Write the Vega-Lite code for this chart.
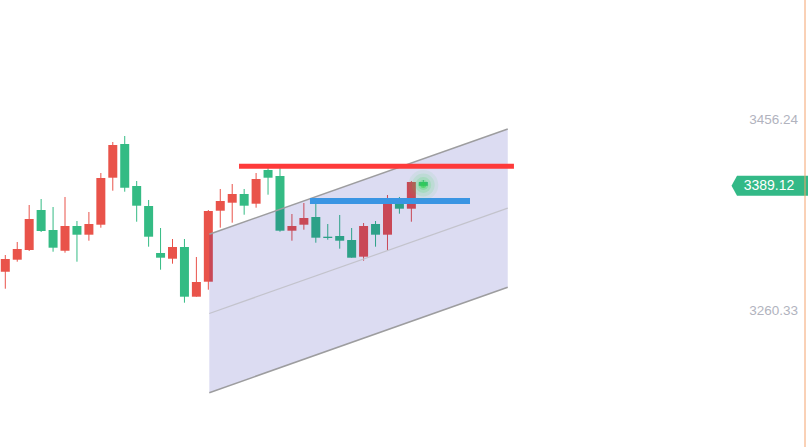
{
  "$schema": "https://vega.github.io/schema/vega-lite/v6.json",
  "width": 808,
  "height": 447,
  "padding": 0,
  "autosize": {"type": "none"},
  "background": "#ffffff",
  "config": {"view": {"stroke": null}, "scale": {"continuousPadding": 0}},
  "datasets": {
    "candles": [
      {"i": 1, "o": 3300.91, "h": 3318.06, "l": 3283.44, "c": 3313.95},
      {"i": 2, "o": 3313.23, "h": 3331.42, "l": 3311.18, "c": 3324.23},
      {"i": 3, "o": 3323.20, "h": 3369.43, "l": 3322.17, "c": 3355.05},
      {"i": 4, "o": 3364.29, "h": 3375.59, "l": 3341.69, "c": 3342.72},
      {"i": 5, "o": 3343.75, "h": 3367.37, "l": 3321.45, "c": 3325.56},
      {"i": 6, "o": 3322.48, "h": 3377.65, "l": 3320.43, "c": 3347.86},
      {"i": 7, "o": 3347.86, "h": 3352.99, "l": 3311.18, "c": 3338.92},
      {"i": 8, "o": 3338.92, "h": 3362.24, "l": 3332.75, "c": 3349.91},
      {"i": 9, "o": 3349.19, "h": 3402.30, "l": 3346.11, "c": 3397.17},
      {"i": 10, "o": 3397.47, "h": 3434.15, "l": 3384.12, "c": 3431.07},
      {"i": 11, "o": 3432.10, "h": 3440.31, "l": 3383.09, "c": 3387.20},
      {"i": 12, "o": 3388.95, "h": 3394.08, "l": 3352.27, "c": 3368.71},
      {"i": 13, "o": 3368.40, "h": 3374.57, "l": 3326.59, "c": 3336.86},
      {"i": 14, "o": 3320.12, "h": 3345.80, "l": 3302.96, "c": 3315.29},
      {"i": 15, "o": 3314.26, "h": 3334.50, "l": 3309.13, "c": 3326.28},
      {"i": 16, "o": 3326.28, "h": 3334.50, "l": 3269.06, "c": 3275.22},
      {"i": 17, "o": 3275.22, "h": 3316.01, "l": 3275.22, "c": 3290.33},
      {"i": 18, "o": 3290.63, "h": 3364.29, "l": 3282.42, "c": 3363.26},
      {"i": 19, "o": 3363.57, "h": 3385.87, "l": 3346.11, "c": 3373.54},
      {"i": 20, "o": 3371.79, "h": 3391.00, "l": 3351.25, "c": 3380.73},
      {"i": 21, "o": 3380.73, "h": 3385.87, "l": 3359.46, "c": 3368.71},
      {"i": 22, "o": 3370.76, "h": 3402.30, "l": 3366.66, "c": 3396.14},
      {"i": 23, "o": 3405.39, "h": 3409.49, "l": 3380.01, "c": 3397.47},
      {"i": 24, "o": 3399.22, "h": 3409.49, "l": 3342.00, "c": 3343.03},
      {"i": 25, "o": 3343.03, "h": 3360.18, "l": 3332.75, "c": 3347.86},
      {"i": 26, "o": 3349.19, "h": 3371.48, "l": 3344.05, "c": 3356.07},
      {"i": 27, "o": 3357.10, "h": 3374.57, "l": 3330.70, "c": 3335.84},
      {"i": 28, "o": 3336.86, "h": 3349.91, "l": 3333.78, "c": 3335.53},
      {"i": 29, "o": 3337.58, "h": 3359.16, "l": 3324.54, "c": 3332.75},
      {"i": 30, "o": 3333.47, "h": 3345.80, "l": 3315.29, "c": 3315.29},
      {"i": 31, "o": 3316.32, "h": 3350.94, "l": 3312.21, "c": 3347.86},
      {"i": 32, "o": 3349.91, "h": 3352.99, "l": 3326.59, "c": 3338.92},
      {"i": 33, "o": 3338.92, "h": 3379.70, "l": 3322.48, "c": 3372.51},
      {"i": 34, "o": 3372.51, "h": 3377.65, "l": 3360.49, "c": 3365.63},
      {"i": 35, "o": 3365.63, "h": 3394.08, "l": 3352.27, "c": 3393.06},
      {"i": 36, "o": 3393.06, "h": 3395.11, "l": 3388.60, "c": 3389.12}
    ],
    "channel": [
      {"i": 18.08, "hi": 3339.33, "mid": 3257.97, "lo": 3176.60},
      {"i": 43.07, "hi": 3447.51, "mid": 3366.20, "lo": 3284.88}
    ],
    "levels": [
      {"name": "resistance", "i1": 20.57, "i2": 43.59, "p": 3409.19},
      {"name": "support", "i1": 26.51, "i2": 39.91, "p": 3373.64}
    ],
    "ticks": [{"v": 3456.24}, {"v": 3260.33}],
    "last": [{"i": 36, "p": 3389.12, "glow": 3389.97}]
  },
  "layer": [
    {
      "data": {"name": "candles"},
      "mark": {"type": "rule", "strokeWidth": 1},
      "encoding": {
        "x": {"field": "i", "type": "quantitative", "scale": {"domain": [0.5562, 68.211], "nice": false, "zero": false, "padding": 0}, "axis": null},
        "y": {"field": "l", "type": "quantitative", "scale": {"domain": [3120.82, 3580.03], "nice": false, "zero": false, "padding": 0}, "axis": null},
        "y2": {"field": "h"},
        "color": {"condition": {"test": "datum.c > datum.o", "value": "#e9534a"}, "value": "#34bb84"}
      }
    },
    {
      "data": {"name": "candles"},
      "mark": {"type": "bar", "width": 9},
      "encoding": {
        "x": {"field": "i", "type": "quantitative", "scale": {"domain": [0.5562, 68.211], "nice": false, "zero": false, "padding": 0}, "axis": null},
        "y": {"field": "o", "type": "quantitative", "scale": {"domain": [3120.82, 3580.03], "nice": false, "zero": false, "padding": 0}, "axis": null},
        "y2": {"field": "c"},
        "color": {"condition": {"test": "datum.c > datum.o", "value": "#e9534a"}, "value": "#34bb84"}
      }
    },
    {
      "data": {"name": "channel"},
      "mark": {"type": "area", "color": "#0a0aa0", "opacity": 0.14},
      "encoding": {
        "x": {"field": "i", "type": "quantitative", "scale": {"domain": [0.5562, 68.211], "nice": false, "zero": false, "padding": 0}, "axis": null},
        "y": {"field": "hi", "type": "quantitative", "scale": {"domain": [3120.82, 3580.03], "nice": false, "zero": false, "padding": 0}, "axis": null},
        "y2": {"field": "lo"}
      }
    },
    {
      "data": {"name": "channel"},
      "mark": {"type": "line", "color": "#c3c3cc", "strokeWidth": 1.2},
      "encoding": {
        "x": {"field": "i", "type": "quantitative", "scale": {"domain": [0.5562, 68.211], "nice": false, "zero": false, "padding": 0}, "axis": null},
        "y": {"field": "mid", "type": "quantitative", "scale": {"domain": [3120.82, 3580.03], "nice": false, "zero": false, "padding": 0}, "axis": null}
      }
    },
    {
      "data": {"name": "channel"},
      "mark": {"type": "line", "color": "#9d9d9f", "strokeWidth": 1.5},
      "encoding": {
        "x": {"field": "i", "type": "quantitative", "scale": {"domain": [0.5562, 68.211], "nice": false, "zero": false, "padding": 0}, "axis": null},
        "y": {"field": "hi", "type": "quantitative", "scale": {"domain": [3120.82, 3580.03], "nice": false, "zero": false, "padding": 0}, "axis": null}
      }
    },
    {
      "data": {"name": "channel"},
      "mark": {"type": "line", "color": "#9d9d9f", "strokeWidth": 1.5},
      "encoding": {
        "x": {"field": "i", "type": "quantitative", "scale": {"domain": [0.5562, 68.211], "nice": false, "zero": false, "padding": 0}, "axis": null},
        "y": {"field": "lo", "type": "quantitative", "scale": {"domain": [3120.82, 3580.03], "nice": false, "zero": false, "padding": 0}, "axis": null}
      }
    },
    {
      "data": {"name": "levels"},
      "transform": [{"filter": "datum.name === 'resistance'"}],
      "mark": {"type": "rule", "color": "#fe3a3a", "strokeWidth": 5},
      "encoding": {
        "x": {"field": "i1", "type": "quantitative", "scale": {"domain": [0.5562, 68.211], "nice": false, "zero": false, "padding": 0}, "axis": null},
        "x2": {"field": "i2"},
        "y": {"field": "p", "type": "quantitative", "scale": {"domain": [3120.82, 3580.03], "nice": false, "zero": false, "padding": 0}, "axis": null}
      }
    },
    {
      "data": {"name": "levels"},
      "transform": [{"filter": "datum.name === 'support'"}],
      "mark": {"type": "rule", "color": "#3a95e3", "strokeWidth": 6},
      "encoding": {
        "x": {"field": "i1", "type": "quantitative", "scale": {"domain": [0.5562, 68.211], "nice": false, "zero": false, "padding": 0}, "axis": null},
        "x2": {"field": "i2"},
        "y": {"field": "p", "type": "quantitative", "scale": {"domain": [3120.82, 3580.03], "nice": false, "zero": false, "padding": 0}, "axis": null}
      }
    },
    {
      "data": {"name": "last"},
      "layer": [
        {"mark": {"type": "circle", "color": "#3fdc5c", "opacity": 0.08, "size": 900}},
        {"mark": {"type": "circle", "color": "#3fdc5c", "opacity": 0.12, "size": 520}},
        {"mark": {"type": "circle", "color": "#3fdc5c", "opacity": 0.18, "size": 250}},
        {"mark": {"type": "circle", "color": "#3fdc5c", "opacity": 0.3, "size": 100}},
        {"mark": {"type": "circle", "color": "#2ed04a", "opacity": 0.55, "size": 35}}
      ],
      "encoding": {
        "x": {"field": "i", "type": "quantitative", "scale": {"domain": [0.5562, 68.211], "nice": false, "zero": false, "padding": 0}, "axis": null},
        "y": {"field": "glow", "type": "quantitative", "scale": {"domain": [3120.82, 3580.03], "nice": false, "zero": false, "padding": 0}, "axis": null}
      }
    },
    {
      "data": {"name": "ticks"},
      "mark": {"type": "text", "color": "#b1b3be", "font": "Liberation Sans", "fontSize": 13.5, "align": "right", "baseline": "middle"},
      "encoding": {
        "x": {"datum": 67.37, "type": "quantitative", "scale": {"domain": [0.5562, 68.211], "nice": false, "zero": false, "padding": 0}, "axis": null},
        "y": {"field": "v", "type": "quantitative", "scale": {"domain": [3120.82, 3580.03], "nice": false, "zero": false, "padding": 0}, "axis": null},
        "text": {"field": "v", "type": "quantitative", "format": ".2f"}
      }
    },
    {
      "data": {"name": "last"},
      "mark": {"type": "point", "shape": "M-1,0L-0.856,-0.2614L1,-0.2614L1,0.2614L-0.856,0.2614Z", "size": 5852, "filled": true, "color": "#33b987", "opacity": 1, "strokeWidth": 0},
      "encoding": {
        "x": {"datum": 65.01, "type": "quantitative", "scale": {"domain": [0.5562, 68.211], "nice": false, "zero": false, "padding": 0}, "axis": null},
        "y": {"field": "p", "type": "quantitative", "scale": {"domain": [3120.82, 3580.03], "nice": false, "zero": false, "padding": 0}, "axis": null}
      }
    },
    {
      "data": {"name": "last"},
      "mark": {"type": "text", "color": "#ffffff", "font": "Liberation Sans", "fontSize": 14, "align": "center", "baseline": "middle"},
      "encoding": {
        "x": {"datum": 64.945, "type": "quantitative", "scale": {"domain": [0.5562, 68.211], "nice": false, "zero": false, "padding": 0}, "axis": null},
        "y": {"field": "p", "type": "quantitative", "scale": {"domain": [3120.82, 3580.03], "nice": false, "zero": false, "padding": 0}, "axis": null},
        "text": {"field": "p", "type": "quantitative", "format": ".2f"}
      }
    },
    {
      "data": {"values": [{"edge": "right"}]},
      "mark": {"type": "rule", "color": "#f4a36e", "strokeWidth": 1},
      "encoding": {
        "x": {"datum": 67.96, "type": "quantitative", "scale": {"domain": [0.5562, 68.211], "nice": false, "zero": false, "padding": 0}, "axis": null}
      }
    }
  ]
}
